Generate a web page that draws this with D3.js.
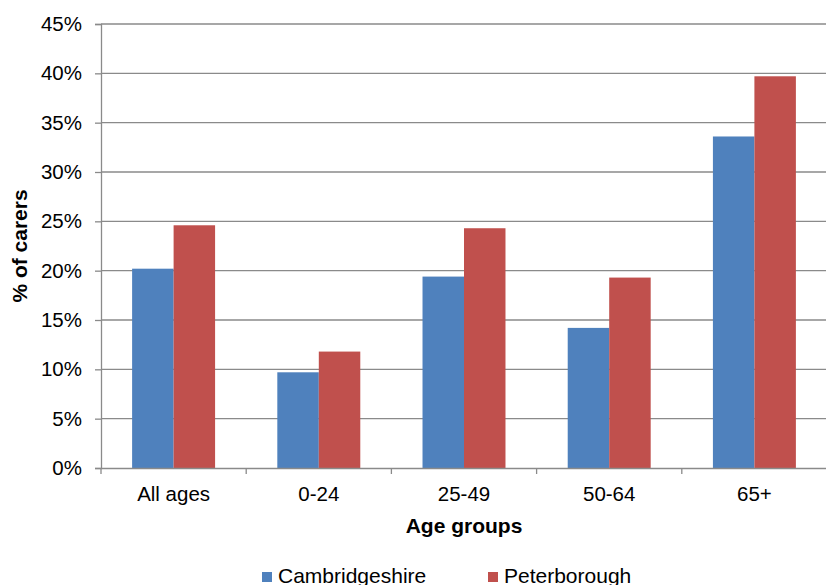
<!DOCTYPE html>
<html>
<head>
<meta charset="utf-8">
<script src="https://cdn.jsdelivr.net/npm/d3@7"></script>
<style>
  html, body { margin: 0; padding: 0; background: #fff; }
  svg { display: block; font-family: "Liberation Sans", Arial, sans-serif; }
</style>
</head>
<body>
<svg id="chart" width="826" height="585"></svg>
<script>
// Share of carers by age group
const categories = ["All ages", "0-24", "25-49", "50-64", "65+"];
const seriesNames = ["Cambridgeshire", "Peterborough"];
const cambridgeshire = [0.202, 0.097, 0.194, 0.142, 0.336];
const peterborough = [0.246, 0.118, 0.243, 0.193, 0.397];
const yTicks = [0, 0.05, 0.10, 0.15, 0.20, 0.25, 0.30, 0.35, 0.40, 0.45];
const colors = ["#4F81BD", "#C0504D"];

const svg = d3.select("#chart");
const plotLeft = 101, plotRight = 827, plotTop = 24, plotBottom = 468;
const gridColor = "#8a8a8a";

const x = d3.scaleBand().domain(categories).range([plotLeft, plotRight]).padding(0);
const xs = d3.scaleBand().domain(seriesNames).range([0, x.bandwidth()])
  .paddingInner(0).paddingOuter(0.75);
const y = d3.scaleLinear().domain([0, 0.45]).range([plotBottom, plotTop]);

// horizontal gridlines
svg.append("g").selectAll("line").data(yTicks.filter(d => d > 0)).join("line")
  .attr("x1", plotLeft).attr("x2", plotRight)
  .attr("y1", d => y(d)).attr("y2", d => y(d))
  .attr("stroke", gridColor).attr("stroke-width", 1.3);

// bars
const rows = categories.map((c, i) => ({ cat: c, vals: [cambridgeshire[i], peterborough[i]] }));
svg.append("g").selectAll("g").data(rows).join("g")
  .attr("transform", d => `translate(${x(d.cat)},0)`)
  .selectAll("rect").data(d => d.vals.map((v, j) => ({ name: seriesNames[j], v, j })))
  .join("rect")
  .attr("x", d => xs(d.name))
  .attr("width", xs.bandwidth())
  .attr("y", d => y(d.v))
  .attr("height", d => y(0) - y(d.v))
  .attr("fill", d => colors[d.j]);

// y axis
const yAxis = d3.axisLeft(y).tickValues(yTicks).tickFormat(d3.format(".0%"))
  .tickSize(6).tickPadding(13);
const gy = svg.append("g").attr("transform", `translate(${plotLeft},0)`).call(yAxis);
gy.select(".domain").attr("stroke", gridColor).attr("stroke-width", 1.3);
gy.selectAll(".tick line").attr("stroke", gridColor).attr("stroke-width", 1.3);
gy.selectAll(".tick text").attr("font-size", "20.5px").attr("fill", "#000")
  .attr("font-family", "Liberation Sans, Arial, sans-serif");

// x axis
const gx = svg.append("g").attr("transform", `translate(0,${plotBottom})`)
  .call(d3.axisBottom(x).tickSize(0).tickPadding(18));
gx.select(".domain").attr("stroke", gridColor).attr("stroke-width", 1.3);
gx.selectAll(".tick text").attr("font-size", "20.5px").attr("fill", "#000")
  .attr("font-family", "Liberation Sans, Arial, sans-serif");
// category boundary ticks
const bounds = categories.map(c => x(c)).concat([x(categories[categories.length - 1]) + x.bandwidth()]);
svg.append("g").selectAll("line").data(bounds.filter(b => b < 826)).join("line")
  .attr("x1", d => d).attr("x2", d => d)
  .attr("y1", plotBottom).attr("y2", plotBottom + 6)
  .attr("stroke", gridColor).attr("stroke-width", 1.3);

// axis titles
svg.append("text").attr("x", 464).attr("y", 533).attr("text-anchor", "middle")
  .attr("font-size", "21px").attr("font-weight", "bold").text("Age groups");
svg.append("text").attr("transform", "translate(27,246) rotate(-90)")
  .attr("text-anchor", "middle").attr("font-size", "21px").attr("font-weight", "bold")
  .text("% of carers");

// legend
const legendX = [262, 488];
const lg = svg.append("g").selectAll("g").data(seriesNames).join("g")
  .attr("transform", (d, i) => `translate(${legendX[i]},0)`);
lg.append("rect").attr("x", 0).attr("y", 572).attr("width", 10).attr("height", 10)
  .attr("fill", (d, i) => colors[i]);
lg.append("text").attr("x", 16).attr("y", 583).attr("font-size", "21px").text(d => d);
</script>
</body>
</html>
